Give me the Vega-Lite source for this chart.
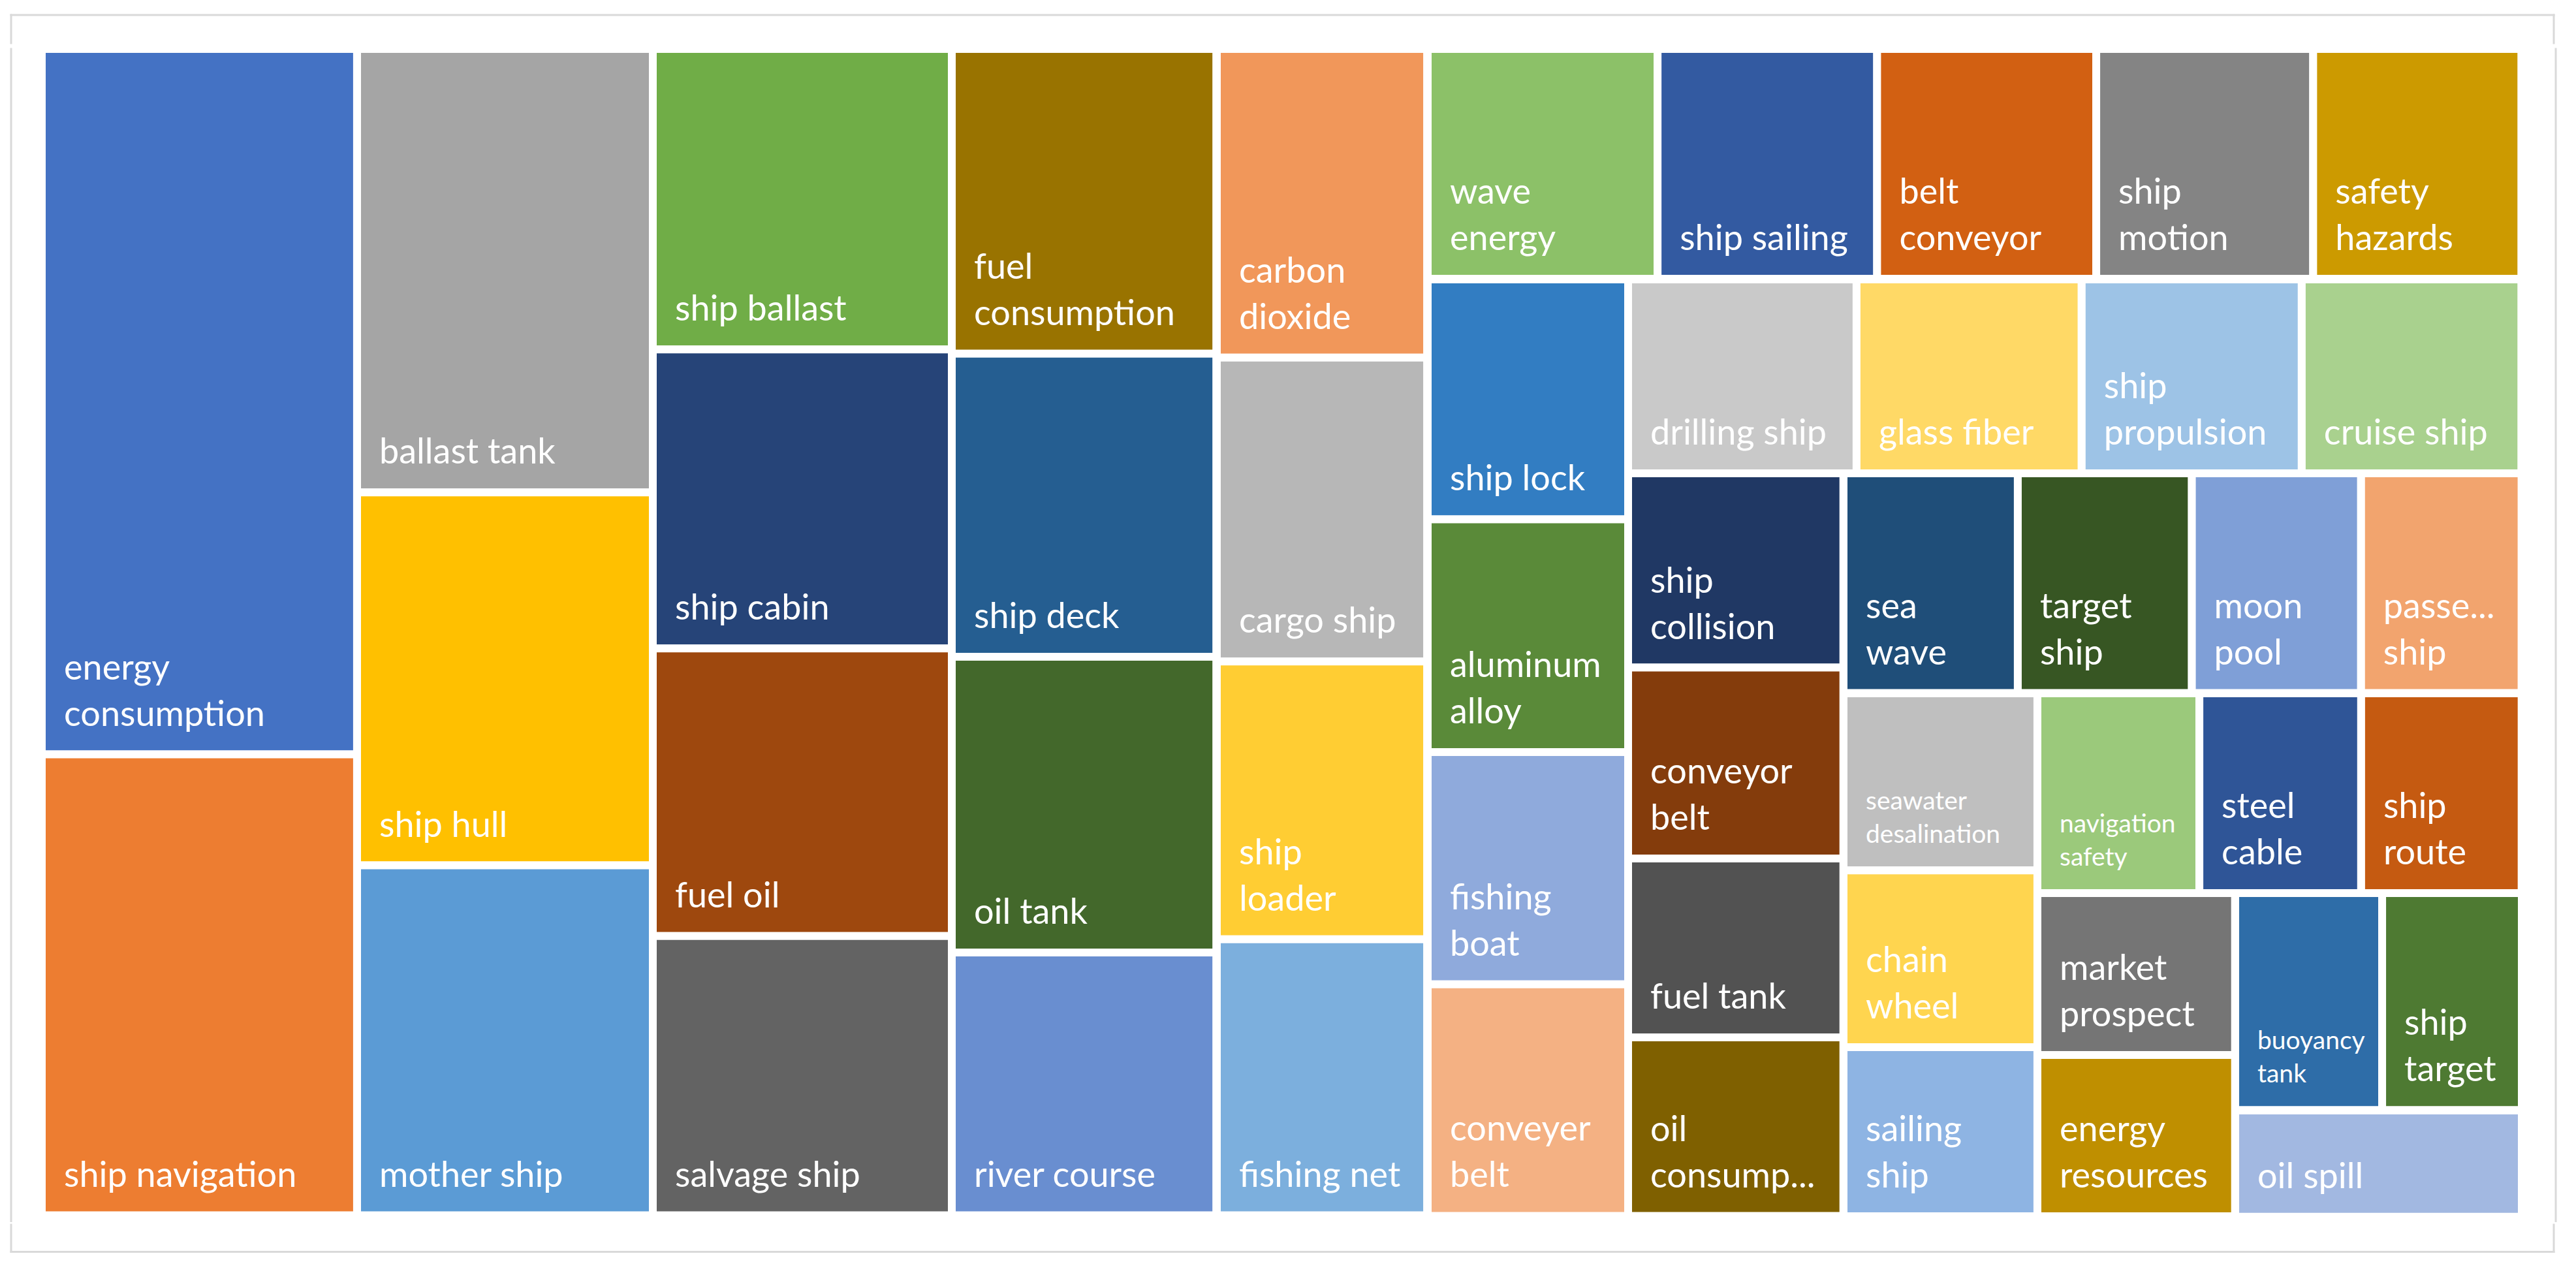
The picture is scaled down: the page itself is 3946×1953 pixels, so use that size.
{
"$schema": "https://vega.github.io/schema/vega-lite/v6.json",
"autosize": {"type": "pad"},
"padding": {"left": 14, "top": 20, "right": 34, "bottom": 44},
"background": "white",
"config": {
  "view": {"stroke": null},
  "rect": {"stroke": "white", "strokeWidth": 12},
  "rule": {"color": "#D9D9D9", "strokeWidth": 3, "strokeCap": "square"},
  "text": {"font": "Lato", "fontSize": 54, "color": "white", "align": "left", "baseline": "alphabetic", "lineBreak": "\n", "lineHeight": 71, "dx": 34, "dy": -44}
},
"data": {"values": [
{"strip":1,"name":"energy consumption","label":"energy\nconsumption","value":521.9},
{"strip":1,"name":"ship navigation","label":"ship navigation","value":341.0},
{"strip":2,"name":"ballast tank","label":"ballast tank","value":307.7},
{"strip":2,"name":"ship hull","label":"ship hull","value":258.8},
{"strip":2,"name":"mother ship","label":"mother ship","value":242.8},
{"strip":3,"name":"ship ballast","label":"ship ballast","value":210.8},
{"strip":3,"name":"ship cabin","label":"ship cabin","value":209.8},
{"strip":3,"name":"fuel oil","label":"fuel oil","value":201.7},
{"strip":3,"name":"salvage ship","label":"salvage ship","value":195.9},
{"strip":4,"name":"fuel consumption","label":"fuel\nconsumption","value":189.1},
{"strip":4,"name":"ship deck","label":"ship deck","value":188.1},
{"strip":4,"name":"oil tank","label":"oil tank","value":183.6},
{"strip":4,"name":"river course","label":"river course","value":163.1},
{"strip":5,"name":"carbon dioxide","label":"carbon\ndioxide","value":152.3},
{"strip":5,"name":"cargo ship","label":"cargo ship","value":149.9},
{"strip":5,"name":"ship loader","label":"ship\nloader","value":137.0},
{"strip":5,"name":"fishing net","label":"fishing net","value":136.2},
{"strip":6,"name":"wave energy","label":"wave\nenergy","value":124.0},
{"strip":6,"name":"ship sailing","label":"ship sailing","value":118.4},
{"strip":6,"name":"belt conveyor","label":"belt\nconveyor","value":118.2},
{"strip":6,"name":"ship motion","label":"ship\nmotion","value":117.0},
{"strip":6,"name":"safety hazards","label":"safety\nhazards","value":112.3},
{"strip":7,"name":"ship lock","label":"ship lock","value":112.8},
{"strip":7,"name":"aluminum alloy","label":"aluminum\nalloy","value":109.4},
{"strip":7,"name":"fishing boat","label":"fishing\nboat","value":109.2},
{"strip":7,"name":"conveyer belt","label":"conveyer\nbelt","value":108.9},
{"strip":8,"name":"drilling ship","label":"drilling ship","value":103.9},
{"strip":8,"name":"glass fiber","label":"glass fiber","value":102.4},
{"strip":8,"name":"ship propulsion","label":"ship\npropulsion","value":100.1},
{"strip":8,"name":"cruise ship","label":"cruise ship","value":99.9},
{"strip":9,"name":"ship collision","label":"ship\ncollision","value":98.1},
{"strip":9,"name":"conveyor belt","label":"conveyor\nbelt","value":96.4},
{"strip":9,"name":"fuel tank","label":"fuel tank","value":90.3},
{"strip":9,"name":"oil consumption","label":"oil\nconsump...","value":90.2},
{"strip":10,"name":"sea wave","label":"sea\nwave","value":89.8},
{"strip":10,"name":"target ship","label":"target\nship","value":89.7},
{"strip":10,"name":"moon pool","label":"moon\npool","value":87.2},
{"strip":10,"name":"passenger ship","label":"passe...\nship","value":82.7},
{"strip":11,"name":"seawater desalination","label":"seawater\ndesalination","value":80.5},
{"strip":11,"name":"chain wheel","label":"chain\nwheel","value":80.4},
{"strip":11,"name":"sailing ship","label":"sailing\nship","value":76.9},
{"strip":12,"name":"navigation safety","label":"navigation\nsafety","value":75.9},
{"strip":12,"name":"steel cable","label":"steel\ncable","value":75.8},
{"strip":12,"name":"ship route","label":"ship\nroute","value":75.2},
{"strip":13,"name":"market prospect","label":"market\nprospect","value":75.1},
{"strip":13,"name":"energy resources","label":"energy\nresources","value":74.8},
{"strip":14,"name":"buoyancy tank","label":"buoyancy\ntank","value":74.8},
{"strip":14,"name":"ship target","label":"ship\ntarget","value":71.1},
{"strip":15,"name":"oil spill","label":"oil spill","value":71.4}
]},
"spacing": 0,
"resolve": {"scale": {"color": "independent"}},
"vconcat": [
 {"width": 3895, "height": 43,
  "transform": [{"aggregate": [{"op": "count", "as": "n"}]}],
  "encoding": {
    "x": {"datum": 0, "type": "quantitative", "scale": {"domain": [0, 1]}, "axis": null},
    "y": {"datum": 1, "type": "quantitative", "scale": {"domain": [0, 1]}, "axis": null}},
  "layer": [
   {"mark": "rule", "encoding": {"x2": {"datum": 1}}},
   {"mark": "rule", "encoding": {"y2": {"datum": 0}}},
   {"mark": "rule", "encoding": {"x": {"datum": 1, "type": "quantitative", "scale": {"domain": [0, 1]}, "axis": null}, "y2": {"datum": 0}}}
  ]},
 {"spacing": 0, "resolve": {"scale": {"color": "independent"}},
  "hconcat": [
   {"width": 40.5, "height": 1795.5,
    "transform": [{"aggregate": [{"op": "count", "as": "n"}]}],
    "mark": "rule",
    "encoding": {
      "x": {"datum": 0, "type": "quantitative", "scale": {"domain": [0, 1]}, "axis": null},
      "y": {"datum": 0, "type": "quantitative", "scale": {"domain": [0, 1]}, "axis": null},
      "y2": {"datum": 1}}},
   {"spacing": 0, "bounds": "flush", "resolve": {"scale": {"color": "independent"}},
    "hconcat": [
     {"width": 482.9, "height": 1786.5,
      "transform": [{"filter": "datum.strip == 1"}, {"stack": "value", "groupby": [], "sort": [{"field": "value", "order": "descending"}], "as": ["v0", "v1"]}],
      "encoding": {"x": {"datum": 0, "type": "quantitative", "scale": {"domain": [0, 1]}, "axis": null}},
      "layer": [
       {"mark": "rect", "encoding": {"x2": {"datum": 1}, "y": {"field": "v0", "type": "quantitative", "scale": {"reverse": true, "nice": false, "zero": true}, "axis": null}, "y2": {"field": "v1"},
         "color": {"field": "name", "type": "nominal", "scale": {"domain": ["energy consumption", "ship navigation"], "range": ["#4472C4", "#ED7D31"]}, "legend": null}}},
       {"transform": [{"filter": "indexof(datum.label, '\\n') < 0"}], "mark": "text", "encoding": {"y": {"field": "v1", "type": "quantitative", "axis": null}, "text": {"field": "label"}}},
       {"transform": [{"filter": "indexof(datum.label, '\\n') >= 0"}], "mark": {"type": "text", "dy": -115}, "encoding": {"y": {"field": "v1", "type": "quantitative", "axis": null}, "text": {"field": "label"}}}
      ]},
     {"width": 453.0, "height": 1786.5,
      "transform": [{"filter": "datum.strip == 2"}, {"stack": "value", "groupby": [], "sort": [{"field": "value", "order": "descending"}], "as": ["v0", "v1"]}],
      "encoding": {"x": {"datum": 0, "type": "quantitative", "scale": {"domain": [0, 1]}, "axis": null}},
      "layer": [
       {"mark": "rect", "encoding": {"x2": {"datum": 1}, "y": {"field": "v0", "type": "quantitative", "scale": {"reverse": true, "nice": false, "zero": true}, "axis": null}, "y2": {"field": "v1"},
         "color": {"field": "name", "type": "nominal", "scale": {"domain": ["ballast tank", "ship hull", "mother ship"], "range": ["#A5A5A5", "#FFC000", "#5B9BD5"]}, "legend": null}}},
       {"mark": "text", "encoding": {"y": {"field": "v1", "type": "quantitative", "axis": null}, "text": {"field": "label"}}}
      ]},
     {"width": 458.0, "height": 1786.5,
      "transform": [{"filter": "datum.strip == 3"}, {"stack": "value", "groupby": [], "sort": [{"field": "value", "order": "descending"}], "as": ["v0", "v1"]}],
      "encoding": {"x": {"datum": 0, "type": "quantitative", "scale": {"domain": [0, 1]}, "axis": null}},
      "layer": [
       {"mark": "rect", "encoding": {"x2": {"datum": 1}, "y": {"field": "v0", "type": "quantitative", "scale": {"reverse": true, "nice": false, "zero": true}, "axis": null}, "y2": {"field": "v1"},
         "color": {"field": "name", "type": "nominal", "scale": {"domain": ["ship ballast", "ship cabin", "fuel oil", "salvage ship"], "range": ["#70AD47", "#264478", "#9E480E", "#636363"]}, "legend": null}}},
       {"mark": "text", "encoding": {"y": {"field": "v1", "type": "quantitative", "axis": null}, "text": {"field": "label"}}}
      ]},
     {"width": 405.2, "height": 1786.5,
      "transform": [{"filter": "datum.strip == 4"}, {"stack": "value", "groupby": [], "sort": [{"field": "value", "order": "descending"}], "as": ["v0", "v1"]}],
      "encoding": {"x": {"datum": 0, "type": "quantitative", "scale": {"domain": [0, 1]}, "axis": null}},
      "layer": [
       {"mark": "rect", "encoding": {"x2": {"datum": 1}, "y": {"field": "v0", "type": "quantitative", "scale": {"reverse": true, "nice": false, "zero": true}, "axis": null}, "y2": {"field": "v1"},
         "color": {"field": "name", "type": "nominal", "scale": {"domain": ["fuel consumption", "ship deck", "oil tank", "river course"], "range": ["#997300", "#255E91", "#43682B", "#698ED0"]}, "legend": null}}},
       {"transform": [{"filter": "indexof(datum.label, '\\n') < 0"}], "mark": "text", "encoding": {"y": {"field": "v1", "type": "quantitative", "axis": null}, "text": {"field": "label"}}},
       {"transform": [{"filter": "indexof(datum.label, '\\n') >= 0"}], "mark": {"type": "text", "dy": -115}, "encoding": {"y": {"field": "v1", "type": "quantitative", "axis": null}, "text": {"field": "label"}}}
      ]},
     {"width": 322.1, "height": 1786.5,
      "transform": [{"filter": "datum.strip == 5"}, {"stack": "value", "groupby": [], "sort": [{"field": "value", "order": "descending"}], "as": ["v0", "v1"]}],
      "encoding": {"x": {"datum": 0, "type": "quantitative", "scale": {"domain": [0, 1]}, "axis": null}},
      "layer": [
       {"mark": "rect", "encoding": {"x2": {"datum": 1}, "y": {"field": "v0", "type": "quantitative", "scale": {"reverse": true, "nice": false, "zero": true}, "axis": null}, "y2": {"field": "v1"},
         "color": {"field": "name", "type": "nominal", "scale": {"domain": ["carbon dioxide", "cargo ship", "ship loader", "fishing net"], "range": ["#F1975A", "#B7B7B7", "#FFCD33", "#7CAFDD"]}, "legend": null}}},
       {"transform": [{"filter": "indexof(datum.label, '\\n') < 0"}], "mark": "text", "encoding": {"y": {"field": "v1", "type": "quantitative", "axis": null}, "text": {"field": "label"}}},
       {"transform": [{"filter": "indexof(datum.label, '\\n') >= 0"}], "mark": {"type": "text", "dy": -115}, "encoding": {"y": {"field": "v1", "type": "quantitative", "axis": null}, "text": {"field": "label"}}}
      ]},
     {"spacing": 0, "bounds": "flush", "resolve": {"scale": {"color": "independent"}},
      "vconcat": [
       {"width": 1675.3, "height": 352.1,
        "transform": [{"filter": "datum.strip == 6"}, {"stack": "value", "groupby": [], "sort": [{"field": "value", "order": "descending"}], "as": ["v0", "v1"]}],
        "encoding": {"y": {"datum": 0, "type": "quantitative", "scale": {"domain": [0, 1]}, "axis": null}},
        "layer": [
         {"mark": "rect", "encoding": {"y2": {"datum": 1}, "x": {"field": "v0", "type": "quantitative", "scale": {"nice": false, "zero": true}, "axis": null}, "x2": {"field": "v1"},
           "color": {"field": "name", "type": "nominal", "scale": {"domain": ["wave energy", "ship sailing", "belt conveyor", "ship motion", "safety hazards"], "range": ["#8CC168", "#335AA1", "#D26012", "#848484", "#CC9A00"]}, "legend": null}}},
         {"transform": [{"filter": "indexof(datum.label, '\\n') < 0"}], "mark": "text", "encoding": {"x": {"field": "v0", "type": "quantitative", "axis": null}, "text": {"field": "label"}}},
         {"transform": [{"filter": "indexof(datum.label, '\\n') >= 0"}], "mark": {"type": "text", "dy": -115}, "encoding": {"x": {"field": "v0", "type": "quantitative", "axis": null}, "text": {"field": "label"}}}
        ]},
       {"spacing": 0, "bounds": "flush", "resolve": {"scale": {"color": "independent"}},
        "hconcat": [
         {"width": 307.0, "height": 1434.4,
          "transform": [{"filter": "datum.strip == 7"}, {"stack": "value", "groupby": [], "sort": [{"field": "value", "order": "descending"}], "as": ["v0", "v1"]}],
          "encoding": {"x": {"datum": 0, "type": "quantitative", "scale": {"domain": [0, 1]}, "axis": null}},
          "layer": [
           {"mark": "rect", "encoding": {"x2": {"datum": 1}, "y": {"field": "v0", "type": "quantitative", "scale": {"reverse": true, "nice": false, "zero": true}, "axis": null}, "y2": {"field": "v1"},
             "color": {"field": "name", "type": "nominal", "scale": {"domain": ["ship lock", "aluminum alloy", "fishing boat", "conveyer belt"], "range": ["#327DC2", "#5A8A39", "#8FAADC", "#F4B183"]}, "legend": null}}},
           {"transform": [{"filter": "indexof(datum.label, '\\n') < 0"}], "mark": "text", "encoding": {"y": {"field": "v1", "type": "quantitative", "axis": null}, "text": {"field": "label"}}},
           {"transform": [{"filter": "indexof(datum.label, '\\n') >= 0"}], "mark": {"type": "text", "dy": -115}, "encoding": {"y": {"field": "v1", "type": "quantitative", "axis": null}, "text": {"field": "label"}}}
          ]},
         {"spacing": 0, "bounds": "flush", "resolve": {"scale": {"color": "independent"}},
          "vconcat": [
           {"width": 1368.3, "height": 296.9,
            "transform": [{"filter": "datum.strip == 8"}, {"stack": "value", "groupby": [], "sort": [{"field": "value", "order": "descending"}], "as": ["v0", "v1"]}],
            "encoding": {"y": {"datum": 0, "type": "quantitative", "scale": {"domain": [0, 1]}, "axis": null}},
            "layer": [
             {"mark": "rect", "encoding": {"y2": {"datum": 1}, "x": {"field": "v0", "type": "quantitative", "scale": {"nice": false, "zero": true}, "axis": null}, "x2": {"field": "v1"},
               "color": {"field": "name", "type": "nominal", "scale": {"domain": ["drilling ship", "glass fiber", "ship propulsion", "cruise ship"], "range": ["#C9C9C9", "#FFD966", "#9DC3E6", "#A9D18E"]}, "legend": null}}},
             {"transform": [{"filter": "indexof(datum.label, '\\n') < 0"}], "mark": "text", "encoding": {"x": {"field": "v0", "type": "quantitative", "axis": null}, "text": {"field": "label"}}},
             {"transform": [{"filter": "indexof(datum.label, '\\n') >= 0"}], "mark": {"type": "text", "dy": -115}, "encoding": {"x": {"field": "v0", "type": "quantitative", "axis": null}, "text": {"field": "label"}}}
            ]},
           {"spacing": 0, "bounds": "flush", "resolve": {"scale": {"color": "independent"}},
            "hconcat": [
             {"width": 329.7, "height": 1137.5,
              "transform": [{"filter": "datum.strip == 9"}, {"stack": "value", "groupby": [], "sort": [{"field": "value", "order": "descending"}], "as": ["v0", "v1"]}],
              "encoding": {"x": {"datum": 0, "type": "quantitative", "scale": {"domain": [0, 1]}, "axis": null}},
              "layer": [
               {"mark": "rect", "encoding": {"x2": {"datum": 1}, "y": {"field": "v0", "type": "quantitative", "scale": {"reverse": true, "nice": false, "zero": true}, "axis": null}, "y2": {"field": "v1"},
                 "color": {"field": "name", "type": "nominal", "scale": {"domain": ["ship collision", "conveyor belt", "fuel tank", "oil consumption"], "range": ["#203864", "#843C0C", "#525252", "#7F6000"]}, "legend": null}}},
               {"transform": [{"filter": "indexof(datum.label, '\\n') < 0"}], "mark": "text", "encoding": {"y": {"field": "v1", "type": "quantitative", "axis": null}, "text": {"field": "label"}}},
               {"transform": [{"filter": "indexof(datum.label, '\\n') >= 0"}], "mark": {"type": "text", "dy": -115}, "encoding": {"y": {"field": "v1", "type": "quantitative", "axis": null}, "text": {"field": "label"}}}
              ]},
             {"spacing": 0, "bounds": "flush", "resolve": {"scale": {"color": "independent"}},
              "vconcat": [
               {"width": 1038.6, "height": 336.5,
                "transform": [{"filter": "datum.strip == 10"}, {"stack": "value", "groupby": [], "sort": [{"field": "value", "order": "descending"}], "as": ["v0", "v1"]}],
                "encoding": {"y": {"datum": 0, "type": "quantitative", "scale": {"domain": [0, 1]}, "axis": null}},
                "layer": [
                 {"mark": "rect", "encoding": {"y2": {"datum": 1}, "x": {"field": "v0", "type": "quantitative", "scale": {"nice": false, "zero": true}, "axis": null}, "x2": {"field": "v1"},
                   "color": {"field": "name", "type": "nominal", "scale": {"domain": ["sea wave", "target ship", "moon pool", "passenger ship"], "range": ["#1F4E79", "#375623", "#7F9FD7", "#F2A46E"]}, "legend": null}}},
                 {"mark": {"type": "text", "dy": -115}, "encoding": {"x": {"field": "v0", "type": "quantitative", "axis": null}, "text": {"field": "label"}}}
                ]},
               {"spacing": 0, "bounds": "flush", "resolve": {"scale": {"color": "independent"}},
                "hconcat": [
                 {"width": 296.9, "height": 801.0,
                  "transform": [{"filter": "datum.strip == 11"}, {"stack": "value", "groupby": [], "sort": [{"field": "value", "order": "descending"}], "as": ["v0", "v1"]}],
                  "encoding": {"x": {"datum": 0, "type": "quantitative", "scale": {"domain": [0, 1]}, "axis": null}},
                  "layer": [
                   {"mark": "rect", "encoding": {"x2": {"datum": 1}, "y": {"field": "v0", "type": "quantitative", "scale": {"reverse": true, "nice": false, "zero": true}, "axis": null}, "y2": {"field": "v1"},
                     "color": {"field": "name", "type": "nominal", "scale": {"domain": ["seawater desalination", "chain wheel", "sailing ship"], "range": ["#BFBFBF", "#FFD54F", "#8EB4E3"]}, "legend": null}}},
                   {"transform": [{"filter": "datum.name != 'seawater desalination'"}], "mark": {"type": "text", "dy": -115}, "encoding": {"y": {"field": "v1", "type": "quantitative", "axis": null}, "text": {"field": "label"}}},
                   {"transform": [{"filter": "datum.name == 'seawater desalination'"}], "mark": {"type": "text", "fontSize": 39, "lineHeight": 51, "dy": -93}, "encoding": {"y": {"field": "v1", "type": "quantitative", "axis": null}, "text": {"field": "label"}}}
                  ]},
                 {"spacing": 0, "bounds": "flush", "resolve": {"scale": {"color": "independent"}},
                  "vconcat": [
                   {"width": 741.7, "height": 306.0,
                    "transform": [{"filter": "datum.strip == 12"}, {"stack": "value", "groupby": [], "sort": [{"field": "value", "order": "descending"}], "as": ["v0", "v1"]}],
                    "encoding": {"y": {"datum": 0, "type": "quantitative", "scale": {"domain": [0, 1]}, "axis": null}},
                    "layer": [
                     {"mark": "rect", "encoding": {"y2": {"datum": 1}, "x": {"field": "v0", "type": "quantitative", "scale": {"nice": false, "zero": true}, "axis": null}, "x2": {"field": "v1"},
                       "color": {"field": "name", "type": "nominal", "scale": {"domain": ["navigation safety", "steel cable", "ship route"], "range": ["#9BC97B", "#2F5597", "#C55A11"]}, "legend": null}}},
                     {"transform": [{"filter": "datum.name != 'navigation safety'"}], "mark": {"type": "text", "dy": -115}, "encoding": {"x": {"field": "v0", "type": "quantitative", "axis": null}, "text": {"field": "label"}}},
                     {"transform": [{"filter": "datum.name == 'navigation safety'"}], "mark": {"type": "text", "fontSize": 39, "lineHeight": 51, "dy": -93}, "encoding": {"x": {"field": "v0", "type": "quantitative", "axis": null}, "text": {"field": "label"}}}
                    ]},
                   {"spacing": 0, "bounds": "flush", "resolve": {"scale": {"color": "independent"}},
                    "hconcat": [
                     {"width": 302.7, "height": 495.0,
                      "transform": [{"filter": "datum.strip == 13"}, {"stack": "value", "groupby": [], "sort": [{"field": "value", "order": "descending"}], "as": ["v0", "v1"]}],
                      "encoding": {"x": {"datum": 0, "type": "quantitative", "scale": {"domain": [0, 1]}, "axis": null}},
                      "layer": [
                       {"mark": "rect", "encoding": {"x2": {"datum": 1}, "y": {"field": "v0", "type": "quantitative", "scale": {"reverse": true, "nice": false, "zero": true}, "axis": null}, "y2": {"field": "v1"},
                         "color": {"field": "name", "type": "nominal", "scale": {"domain": ["market prospect", "energy resources"], "range": ["#757575", "#BF8F00"]}, "legend": null}}},
                       {"mark": {"type": "text", "dy": -115}, "encoding": {"y": {"field": "v1", "type": "quantitative", "axis": null}, "text": {"field": "label"}}}
                      ]},
                     {"spacing": 0, "bounds": "flush", "resolve": {"scale": {"color": "independent"}},
                      "vconcat": [
                       {"width": 439.0, "height": 332.3,
                        "transform": [{"filter": "datum.strip == 14"}, {"stack": "value", "groupby": [], "sort": [{"field": "value", "order": "descending"}], "as": ["v0", "v1"]}],
                        "encoding": {"y": {"datum": 0, "type": "quantitative", "scale": {"domain": [0, 1]}, "axis": null}},
                        "layer": [
                         {"mark": "rect", "encoding": {"y2": {"datum": 1}, "x": {"field": "v0", "type": "quantitative", "scale": {"nice": false, "zero": true}, "axis": null}, "x2": {"field": "v1"},
                           "color": {"field": "name", "type": "nominal", "scale": {"domain": ["buoyancy tank", "ship target"], "range": ["#2E6DA8", "#4E7A32"]}, "legend": null}}},
                         {"transform": [{"filter": "datum.name != 'buoyancy tank'"}], "mark": {"type": "text", "dy": -115}, "encoding": {"x": {"field": "v0", "type": "quantitative", "axis": null}, "text": {"field": "label"}}},
                         {"transform": [{"filter": "datum.name == 'buoyancy tank'"}], "mark": {"type": "text", "fontSize": 39, "lineHeight": 51, "dy": -93}, "encoding": {"x": {"field": "v0", "type": "quantitative", "axis": null}, "text": {"field": "label"}}}
                        ]},
                       {"width": 439.0, "height": 162.7,
                        "transform": [{"filter": "datum.strip == 15"}, {"stack": "value", "groupby": [], "sort": [{"field": "value", "order": "descending"}], "as": ["v0", "v1"]}],
                        "encoding": {"x": {"datum": 0, "type": "quantitative", "scale": {"domain": [0, 1]}, "axis": null}},
                        "layer": [
                         {"mark": "rect", "encoding": {"x2": {"datum": 1}, "y": {"field": "v0", "type": "quantitative", "scale": {"reverse": true, "nice": false, "zero": true}, "axis": null}, "y2": {"field": "v1"},
                           "color": {"field": "name", "type": "nominal", "scale": {"domain": ["oil spill"], "range": ["#A2B8E1"]}, "legend": null}}},
                         {"mark": "text", "encoding": {"y": {"field": "v1", "type": "quantitative", "axis": null}, "text": {"field": "label"}}}
                        ]}
                      ]}
                    ]}
                  ]}
                ]}
              ]}
            ]}
          ]}
        ]}
      ]}
    ]},
   {"width": 46, "height": 1795.5,
    "transform": [{"aggregate": [{"op": "count", "as": "n"}]}],
    "mark": "rule",
    "encoding": {
      "x": {"datum": 1, "type": "quantitative", "scale": {"domain": [0, 1]}, "axis": null},
      "y": {"datum": 0, "type": "quantitative", "scale": {"domain": [0, 1]}, "axis": null},
      "y2": {"datum": 1}}}
  ]},
 {"width": 3895, "height": 41.5,
  "transform": [{"aggregate": [{"op": "count", "as": "n"}]}],
  "encoding": {
    "x": {"datum": 0, "type": "quantitative", "scale": {"domain": [0, 1]}, "axis": null},
    "y": {"datum": 0, "type": "quantitative", "scale": {"domain": [0, 1]}, "axis": null}},
  "layer": [
   {"mark": "rule", "encoding": {"x2": {"datum": 1}}},
   {"mark": "rule", "encoding": {"y2": {"datum": 1}}},
   {"mark": "rule", "encoding": {"x": {"datum": 1, "type": "quantitative", "scale": {"domain": [0, 1]}, "axis": null}, "y2": {"datum": 1}}}
  ]}
]
}
